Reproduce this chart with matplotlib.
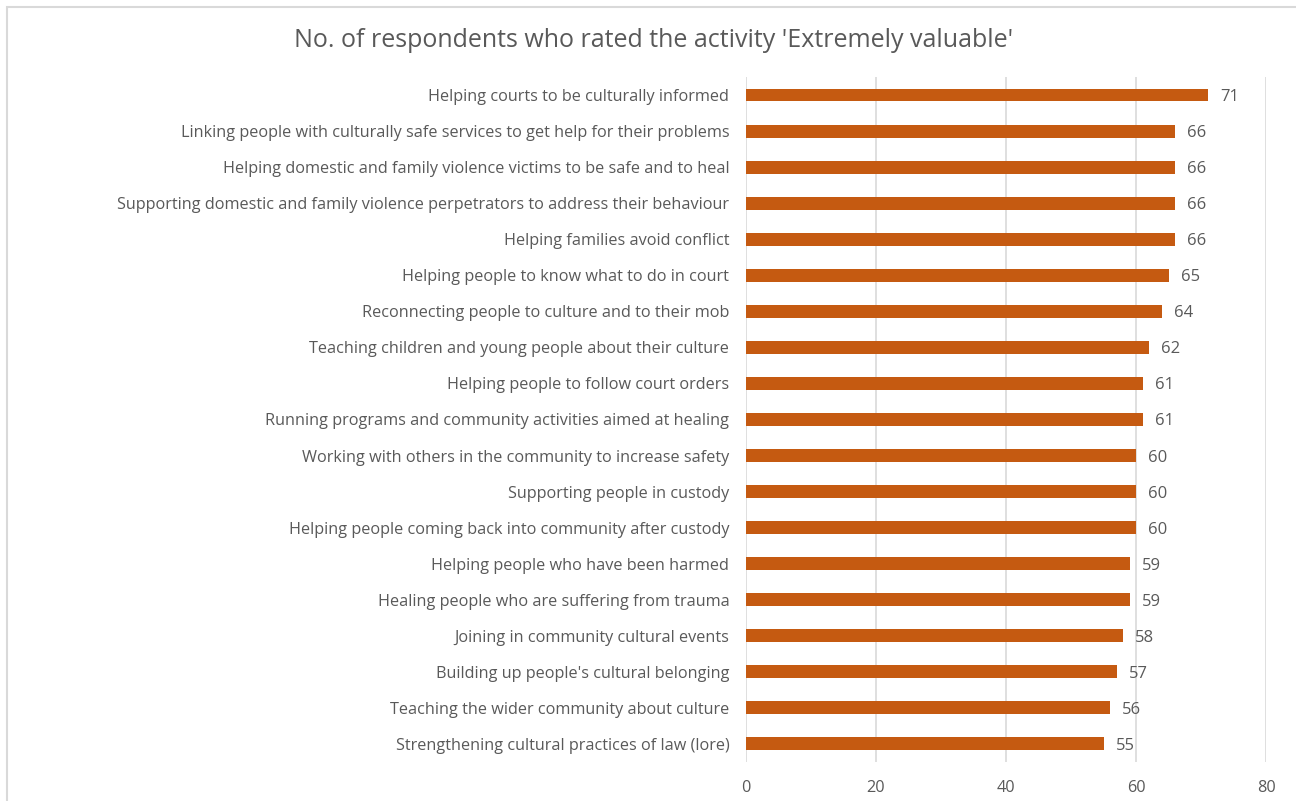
import matplotlib.pyplot as plt
from matplotlib.patches import Rectangle

activities = [
    "Helping courts to be culturally informed",
    "Linking people with culturally safe services to get help for their problems",
    "Helping domestic and family violence victims to be safe and to heal",
    "Supporting domestic and family violence perpetrators to address their behaviour",
    "Helping families avoid conflict",
    "Helping people to know what to do in court",
    "Reconnecting people to culture and to their mob",
    "Teaching children and young people about their culture",
    "Helping people to follow court orders",
    "Running programs and community activities aimed at healing",
    "Working with others in the community to increase safety",
    "Supporting people in custody",
    "Helping people coming back into community after custody",
    "Helping people who have been harmed",
    "Healing people who are suffering from trauma",
    "Joining in community cultural events",
    "Building up people's cultural belonging",
    "Teaching the wider community about culture",
    "Strengthening cultural practices of law (lore)",
]
respondents = [71, 66, 66, 66, 66, 65, 64, 62, 61, 61, 60, 60, 60, 59, 59, 58, 57, 56, 55]
x_ticks = [0, 20, 40, 60, 80]

bar_color = "#C55A11"
text_color = "#595959"
grid_color = "#D9D9D9"

plt.rcParams["font.family"] = ["Open Sans", "DejaVu Sans"]

fig = plt.figure(figsize=(12.96, 8.01), dpi=100)
ax = fig.add_axes([0.5756, 0.0487, 0.4013, 0.8552])

# chart frame (only the top and left edges fall inside the image)
fig.patches.append(Rectangle((7 / 1296, -0.1), 1.2, (801 - 7) / 801 + 0.1,
                             transform=fig.transFigure, fill=False,
                             edgecolor=grid_color, linewidth=1.5))

ypos = list(range(len(activities)))
ax.barh(ypos, respondents, height=0.36, color=bar_color, zorder=3)
for y, v in zip(ypos, respondents):
    ax.text(v + 1.9, y, str(v), va="center_baseline", ha="left",
            fontsize=12, color=text_color)

ax.set_yticks(ypos)
ax.set_yticklabels(activities, fontsize=11.7, color=text_color)
ax.set_ylim(len(activities) - 0.5, -0.5)
ax.set_xlim(0, 80)
ax.set_xticks(x_ticks)
ax.set_xticklabels([str(t) for t in x_ticks], fontsize=11.7, color=text_color)
ax.tick_params(length=0, pad=12)
ax.tick_params(axis="x", pad=13)

ax.grid(axis="x", color=grid_color, linewidth=1.2, zorder=0)
for s in ax.spines.values():
    s.set_visible(False)

fig.text(0.504, 0.950, "No. of respondents who rated the activity 'Extremely valuable'",
         ha="center", va="center", fontsize=18, color=text_color)

fig.savefig("out.png", dpi=100)
